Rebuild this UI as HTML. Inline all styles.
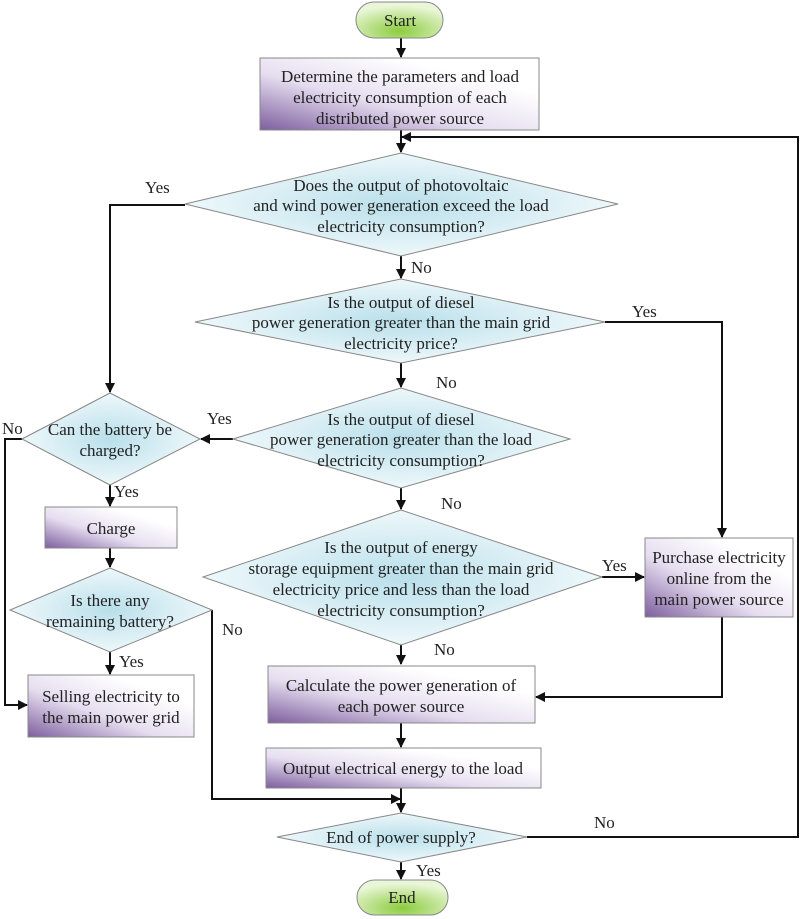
<!DOCTYPE html>
<html><head><meta charset="utf-8"><style>
html,body{margin:0;padding:0;background:#fff;}
svg{display:block;}
text{font-family:"Liberation Serif",serif;font-size:17px;fill:#222;}
</style></head><body>
<svg width="800" height="919" viewBox="0 0 800 919" xmlns="http://www.w3.org/2000/svg">
<defs>
<linearGradient id="box" x1="0" y1="1" x2="1" y2="0">
<stop offset="0" stop-color="#7d5e9e"/><stop offset="0.4" stop-color="#e6def0"/><stop offset="0.75" stop-color="#ffffff"/>
</linearGradient>
<radialGradient id="dia" cx="0.5" cy="0.5" r="0.5">
<stop offset="0" stop-color="#b9dfea"/><stop offset="1" stop-color="#eef8fb"/>
</radialGradient>
<radialGradient id="grn" cx="0.5" cy="0.8" r="0.7">
<stop offset="0" stop-color="#8ccc3e"/><stop offset="1" stop-color="#eaf6d8"/>
</radialGradient>
<marker id="ar" markerWidth="10" markerHeight="10" refX="9" refY="5" orient="auto" markerUnits="userSpaceOnUse">
<path d="M0,0 L10,5 L0,10 z" fill="#111"/>
</marker>
</defs>

<g stroke="#111" stroke-width="2" fill="none">
<line x1="401" y1="38" x2="401" y2="57" marker-end="url(#ar)"/>
<line x1="401" y1="130" x2="401" y2="152" marker-end="url(#ar)"/>
<polyline points="527,837 798,837 798,137 402,137" marker-end="url(#ar)"/>
<line x1="401" y1="256" x2="401" y2="278" marker-end="url(#ar)"/>
<line x1="401" y1="363" x2="401" y2="387" marker-end="url(#ar)"/>
<line x1="401" y1="488" x2="401" y2="509" marker-end="url(#ar)"/>
<line x1="401" y1="645" x2="401" y2="664" marker-end="url(#ar)"/>
<line x1="401" y1="723" x2="401" y2="747" marker-end="url(#ar)"/>
<line x1="401" y1="788" x2="401" y2="812" marker-end="url(#ar)"/>
<line x1="401" y1="862" x2="401" y2="879" marker-end="url(#ar)"/>
<polyline points="185,205 110,205 110,392" marker-end="url(#ar)"/>
<polyline points="605,322 722,322 722,537" marker-end="url(#ar)"/>
<line x1="233" y1="439" x2="201" y2="439" marker-end="url(#ar)"/>
<line x1="602" y1="577" x2="644" y2="577" marker-end="url(#ar)"/>
<polyline points="722,617 722,697 536,697" marker-end="url(#ar)"/>
<polyline points="22,439 5,439 5,705 27,705" marker-end="url(#ar)"/>
<line x1="110" y1="485" x2="110" y2="506" marker-end="url(#ar)"/>
<line x1="110" y1="548" x2="110" y2="567" marker-end="url(#ar)"/>
<line x1="110" y1="652" x2="110" y2="674" marker-end="url(#ar)"/>
<polyline points="212,610 212,799 400,799" marker-end="url(#ar)"/>
</g>

<g stroke="#888" stroke-width="1">
<rect x="356" y="2" width="87" height="36" rx="18" fill="url(#grn)"/>
<rect x="357" y="880" width="91" height="35" rx="17.5" fill="url(#grn)"/>
<rect x="260" y="58" width="279" height="72" fill="url(#box)"/>
<polygon points="185,204 401,153 618,204 401,256" fill="url(#dia)"/>
<polygon points="195,322 401,279 605,322 401,363" fill="url(#dia)"/>
<polygon points="233,439 401,388 570,439 401,488" fill="url(#dia)"/>
<polygon points="203,577 401,510 602,577 401,645" fill="url(#dia)"/>
<polygon points="22,439 110,393 200,439 110,485" fill="url(#dia)"/>
<rect x="45" y="507" width="132" height="41" fill="url(#box)"/>
<polygon points="10,610 110,568 212,610 110,652" fill="url(#dia)"/>
<rect x="28" y="675" width="166" height="62" fill="url(#box)"/>
<rect x="645" y="538" width="148" height="79" fill="url(#box)"/>
<rect x="268" y="666" width="267" height="57" fill="url(#box)"/>
<rect x="266" y="748" width="275" height="40" fill="url(#box)"/>
<polygon points="277,837 401,813 527,837 401,862" fill="url(#dia)"/>
</g>

<g text-anchor="middle">
<text x="400" y="26">Start</text>
<text x="402" y="903">End</text>
<text x="400" y="82">Determine the parameters and load</text>
<text x="400" y="103">electricity consumption of each</text>
<text x="400" y="124">distributed power source</text>
<text x="401" y="191">Does the output of photovoltaic</text>
<text x="401" y="211">and wind power generation exceed the load</text>
<text x="401" y="232">electricity consumption?</text>
<text x="401" y="308">Is the output of diesel</text>
<text x="401" y="328">power generation greater than the main grid</text>
<text x="401" y="349">electricity price?</text>
<text x="401" y="425">Is the output of diesel</text>
<text x="401" y="445">power generation greater than the load</text>
<text x="401" y="466">electricity consumption?</text>
<text x="401" y="553">Is the output of energy</text>
<text x="401" y="574">storage equipment greater than the main grid</text>
<text x="401" y="595">electricity price and less than the load</text>
<text x="401" y="616">electricity consumption?</text>
<text x="110" y="435">Can the battery be</text>
<text x="110" y="456">charged?</text>
<text x="111" y="534">Charge</text>
<text x="110" y="606">Is there any</text>
<text x="110" y="627">remaining battery?</text>
<text x="111" y="702">Selling electricity to</text>
<text x="111" y="723">the main power grid</text>
<text x="719" y="563">Purchase electricity</text>
<text x="719" y="584">online from the</text>
<text x="719" y="605">main power source</text>
<text x="401" y="691">Calculate the power generation of</text>
<text x="401" y="712">each power source</text>
<text x="403" y="774">Output electrical energy to the load</text>
<text x="401" y="843">End of power supply?</text>
</g>
<g>
<text x="145" y="193">Yes</text>
<text x="411" y="273">No</text>
<text x="632" y="317">Yes</text>
<text x="436" y="388">No</text>
<text x="207" y="424">Yes</text>
<text x="2" y="434">No</text>
<text x="441" y="509">No</text>
<text x="114" y="497">Yes</text>
<text x="602" y="571">Yes</text>
<text x="222" y="635">No</text>
<text x="119" y="667">Yes</text>
<text x="434" y="655">No</text>
<text x="594" y="828">No</text>
<text x="416" y="876">Yes</text>
</g>
</svg>
</body></html>
